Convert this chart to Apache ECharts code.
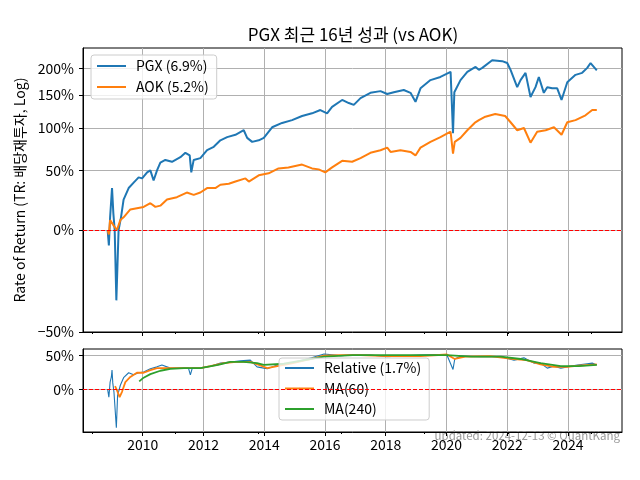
<!DOCTYPE html>
<html><head><meta charset="utf-8">
<script src="https://cdn.jsdelivr.net/npm/echarts@6/dist/echarts.min.js"></script>
<style>html,body{margin:0;padding:0;background:#fff}#c{width:640px;height:480px}</style>
</head><body><div id="c"></div>
<script>
// ---------- data (percent returns, total return) ----------
const pgxDates = ['2008-11-05','2008-11-20','2008-12-05','2008-12-28','2009-01-13','2009-01-29','2009-02-18','2009-03-17','2009-04-15','2009-05-16','2009-07-16','2009-09-14','2009-11-13','2009-12-25','2010-02-23','2010-04-03','2010-05-12','2010-06-22','2010-08-01','2010-09-30','2010-12-19','2011-03-30','2011-05-29','2011-07-20','2011-08-08','2011-09-06','2011-11-25','2012-02-14','2012-05-04','2012-07-23','2012-10-12','2013-01-20','2013-04-30','2013-06-10','2013-08-09','2013-10-27','2013-12-27','2014-04-06','2014-08-04','2014-12-02','2015-04-01','2015-07-30','2015-11-07','2016-01-27','2016-03-27','2016-07-26','2016-10-14','2016-12-13','2017-03-04','2017-07-01','2017-10-30','2018-01-19','2018-04-08','2018-08-06','2018-10-26','2018-12-25','2019-02-23','2019-06-23','2019-10-21','2020-02-20','2020-03-20','2020-04-05','2020-06-18','2020-09-08','2020-12-16','2021-01-25','2021-03-07','2021-07-04','2021-11-01','2022-01-01','2022-02-10','2022-05-01','2022-06-10','2022-08-09','2022-10-08','2022-12-07','2023-01-16','2023-03-17','2023-04-27','2023-06-26','2023-08-25','2023-10-16','2023-12-24','2024-04-01','2024-06-20','2024-08-20','2024-09-29','2024-12-13'];
const pgxReturns = [0,-10,9,33,12,0,-38,0,9,23,33,38,43,42,48,50,40,50,58,61,59,64,69,66,48,61,63,72,76,84,88,91,97,87,82,84,87,101,107,111,117,121,126,121,131,142,137,134,145,154,157,152,155,159,154,139,162,177,183,193,93,155,177,193,203,197,201,217,215,211,197,164,177,191,147,164,183,154,164,162,162,142,173,187,191,201,211,196];

const aokDates = ['2008-11-05','2008-11-20','2008-12-05','2009-01-17','2009-02-25','2009-04-07','2009-05-16','2009-08-05','2009-10-23','2010-01-12','2010-04-03','2010-06-02','2010-08-01','2010-10-20','2011-02-16','2011-06-15','2011-09-06','2011-11-25','2012-02-14','2012-05-23','2012-07-23','2012-11-01','2013-01-20','2013-05-20','2013-06-30','2013-10-27','2014-02-23','2014-06-22','2014-10-19','2015-04-01','2015-07-30','2015-10-18','2016-01-05','2016-03-27','2016-07-26','2016-11-23','2017-03-04','2017-07-01','2017-10-30','2018-01-19','2018-02-28','2018-06-27','2018-10-26','2018-12-25','2019-02-23','2019-06-23','2019-10-21','2020-02-20','2020-03-20','2020-04-10','2020-06-18','2020-09-08','2020-12-05','2021-01-25','2021-04-13','2021-08-10','2021-12-07','2022-02-10','2022-05-01','2022-07-21','2022-10-08','2022-12-27','2023-04-08','2023-07-17','2023-10-16','2023-12-24','2024-04-01','2024-07-30','2024-10-19','2024-12-13'];
const aokReturns = [0,-3,7,3,0,7,9,15,16,17,20,17,18,23,25,29,27,29,33,33,36,37,39,42,39,45,47,52,53,56,52,51,48,53,60,59,63,69,72,75,70,72,70,66,75,82,88,95,68,82,87,97,107,111,116,120,117,108,97,100,81,95,97,101,91,108,111,118,126,126];

const relDates = ['2008-11-05','2008-11-20','2008-12-05','2008-12-20','2008-12-28','2009-01-06','2009-01-20','2009-02-18','2009-03-05','2009-04-07','2009-05-16','2009-07-16','2009-09-14','2009-11-13','2010-01-12','2010-04-03','2010-06-22','2010-08-20','2010-11-30','2011-03-30','2011-07-05','2011-07-28','2011-08-20','2011-11-25','2012-03-24','2012-07-23','2012-11-20','2013-03-20','2013-07-18','2013-10-07','2013-12-27','2014-02-07','2014-06-07','2014-11-15','2015-07-24','2015-12-22','2016-07-09','2016-11-30','2017-07-01','2018-01-19','2019-02-23','2019-08-27','2020-01-07','2020-03-20','2020-04-10','2020-06-18','2021-02-10','2021-10-16','2022-03-24','2022-07-21','2022-11-18','2023-02-05','2023-04-27','2023-07-17','2023-10-07','2023-12-24','2024-04-22','2024-08-20','2024-10-19','2024-12-13'];
const relReturns = [0,-9,9,16,26,8,-3,-37,-7,5,15,22,19,22,23,28,31,34,29,29,29,19,29,29,32,37,39,41,42,31,29,28,34,37,46,53,50,51,51,48,51,52,51,27,44,49,48,48,42,46,37,37,29,32,29,31,34,36,37,34];

const ma60Dates = ['2009-02-02','2009-02-25','2009-03-29','2009-04-27','2009-06-06','2009-08-05','2009-10-23','2010-01-12','2010-04-03','2010-06-22','2010-10-20','2011-03-30','2011-11-25','2012-03-24','2012-09-01','2013-01-30','2013-07-18','2013-12-10','2014-02-07','2014-06-07','2014-11-15','2015-07-24','2015-12-22','2016-07-09','2017-03-04','2018-01-19','2019-02-23','2020-01-07','2020-04-10','2020-08-15','2021-06-05','2022-03-24','2022-08-20','2023-02-05','2023-07-17','2023-12-24','2024-05-10','2024-12-13'];
const ma60Values = [4,-1,-9,-3,9,16,22,22,26,29,29,29,29,32,37,39,39,32,29,32,36,44,50,51,51,49,49,52,44,48,49,44,42,35,31,31,33,35];

const ma240Dates = ['2009-11-20','2010-01-12','2010-04-03','2010-08-01','2010-11-30','2011-05-12','2011-11-25','2012-06-26','2012-11-20','2013-04-29','2013-10-07','2013-12-27','2014-08-25','2015-12-22','2016-11-30','2018-01-19','2019-02-23','2020-01-07','2020-10-21','2021-10-16','2022-06-10','2023-02-05','2023-10-07','2024-05-10','2024-12-13'];
const ma240Values = [10,15,20,25,28,29,29,34,39,39,37,34,36,48,51,51,51,51,48,48,44,37,32,32,34];

const topTickPercents = [-50,0,50,100,150,200];
const bottomTickPercents = [0,50];
const majorTickYears = [2010,2012,2014,2016,2018,2020,2022,2024];
const minorTickDates = ['2008-05-01','2011-01-26','2013-10-22','2016-07-18','2019-04-14','2022-01-08','2024-10-04'];

// ---------- build ----------
const ts = s => Date.parse(s + 'T00:00:00Z');
const toSeries = (d, v) => d.map((x, i) => [ts(x), 1 + v[i] / 100]);
const pctLabel = v => { const p = Math.round((v - 1) * 100); return (p < 0 ? '\u2212' : '') + Math.abs(p) + '%'; };
const topTicks = topTickPercents.map(p => 1 + p / 100);
const botTicks = bottomTickPercents.map(p => 1 + p / 100);
const majorTicks = majorTickYears.map(y => ts(y + '-01-01'));
const minorTicks = minorTickDates.map(ts);
const FONT = '"Noto Sans CJK KR", "Noto Sans", sans-serif';
const xMin = ts('2008-01-14'), xMax = ts('2025-10-12');

function xAxisMain(gi, labels) {
  return {
    type: 'value', gridIndex: gi, min: xMin, max: xMax, position: 'bottom', scale: true,
    axisLine: {show: true, onZero: false, lineStyle: {color: '#000', width: 1}},
    axisTick: {show: true, customValues: majorTicks, length: 4, lineStyle: {color: '#000'}},
    axisLabel: {show: labels, customValues: majorTicks, formatter: v => String(new Date(v).getUTCFullYear()),
      color: '#000', fontSize: 14, fontFamily: FONT, margin: 6},
    splitLine: {show: true, lineStyle: {color: '#b0b0b0', width: 1}}
  };
}
function xAxisMinor(gi) {
  return {
    type: 'value', gridIndex: gi, min: xMin, max: xMax, position: 'bottom', scale: true,
    axisLine: {show: false, onZero: false},
    axisTick: {show: true, customValues: minorTicks, length: 2, lineStyle: {color: '#000'}},
    axisLabel: {show: false}, splitLine: {show: false}
  };
}
const redLine = {silent: true, symbol: 'none', label: {show: false},
  lineStyle: {color: '#ff0000', type: [4, 2], width: 1}, data: [{yAxis: 1}]};

const chart = echarts.init(document.getElementById('c'), null, {renderer: 'canvas'});
chart.setOption({
  animation: false,
  textStyle: {fontFamily: FONT},
  grid: [
    {left: 83, right: 18, top: 48, height: 284, show: true, borderColor: '#000', borderWidth: 1, backgroundColor: 'transparent'},
    {left: 83, right: 18, top: 349, height: 83, show: true, borderColor: '#000', borderWidth: 1, backgroundColor: 'transparent'}
  ],
  xAxis: [xAxisMain(0, false), xAxisMain(1, true), xAxisMinor(0), xAxisMinor(1)],
  yAxis: [
    {type: 'log', logBase: 2, gridIndex: 0, min: 0.5, max: 3.445,
     axisLine: {show: true, lineStyle: {color: '#000'}},
     axisTick: {show: true, customValues: topTicks, length: 4, lineStyle: {color: '#000'}},
     axisLabel: {customValues: topTicks, formatter: pctLabel, color: '#000', fontSize: 14, fontFamily: FONT, margin: 9},
     splitLine: {show: true, lineStyle: {color: '#b0b0b0', width: 1}},
     name: 'Rate of Return (TR: 배당재투자, Log)', nameLocation: 'middle', nameGap: 55,
     nameTextStyle: {color: '#000', fontSize: 14, fontFamily: FONT}},
    {type: 'log', logBase: 2, gridIndex: 1, min: 0.598, max: 1.624,
     axisLine: {show: true, lineStyle: {color: '#000'}},
     axisTick: {show: true, customValues: botTicks, length: 4, lineStyle: {color: '#000'}},
     axisLabel: {customValues: botTicks, formatter: pctLabel, color: '#000', fontSize: 14, fontFamily: FONT, margin: 9},
     splitLine: {show: true, lineStyle: {color: '#b0b0b0', width: 1}}}
  ],
  legend: [
    {data: ['PGX (6.9%)', 'AOK (5.2%)'], orient: 'vertical', left: 91, top: 55,
     itemWidth: 29, itemHeight: 2, itemGap: 7, padding: [4, 8, 5, 5],
     backgroundColor: 'rgba(255,255,255,0.8)', borderColor: '#cccccc', borderWidth: 1, borderRadius: 3,
     textStyle: {color: '#000', fontSize: 14, fontFamily: FONT, padding: [0, 0, 0, 5]}},
    {data: ['Relative (1.7%)', 'MA(60)', 'MA(240)'], orient: 'vertical', left: 279, top: 358,
     itemWidth: 29, itemHeight: 2, itemGap: 6.5, padding: [3, 8, 4, 5],
     backgroundColor: 'rgba(255,255,255,0.8)', borderColor: '#cccccc', borderWidth: 1, borderRadius: 3,
     textStyle: {color: '#000', fontSize: 14, fontFamily: FONT, padding: [0, 0, 0, 5]}}
  ],
  graphic: [
    {type: 'text', x: 353, y: 35, style: {text: 'PGX 최근 16년 성과 (vs AOK)', font: '17px ' + FONT,
      fill: '#000', textAlign: 'center', textVerticalAlign: 'middle'}},
    {type: 'text', x: 620, y: 436, style: {text: 'updated: 2024-12-13 © QuantKang', font: '11.5px ' + FONT,
      fill: '#999999', textAlign: 'right', textVerticalAlign: 'middle'}}
  ],
  series: [
    {name: 'PGX (6.9%)', type: 'line', xAxisIndex: 0, yAxisIndex: 0, data: toSeries(pgxDates, pgxReturns),
     symbol: 'none', color: '#1f77b4', lineStyle: {color: '#1f77b4', width: 2}, markLine: redLine},
    {name: 'AOK (5.2%)', type: 'line', xAxisIndex: 0, yAxisIndex: 0, data: toSeries(aokDates, aokReturns),
     symbol: 'none', color: '#ff7f0e', lineStyle: {color: '#ff7f0e', width: 2}},
    {name: 'Relative (1.7%)', type: 'line', xAxisIndex: 1, yAxisIndex: 1, data: toSeries(relDates, relReturns),
     symbol: 'none', color: '#1f77b4', lineStyle: {color: '#1f77b4', width: 1.1}, markLine: redLine},
    {name: 'MA(60)', type: 'line', xAxisIndex: 1, yAxisIndex: 1, data: toSeries(ma60Dates, ma60Values),
     symbol: 'none', color: '#ff7f0e', lineStyle: {color: '#ff7f0e', width: 1.8}},
    {name: 'MA(240)', type: 'line', xAxisIndex: 1, yAxisIndex: 1, data: toSeries(ma240Dates, ma240Values),
     symbol: 'none', color: '#2ca02c', lineStyle: {color: '#2ca02c', width: 1.8}}
  ]
});
</script></body></html>
